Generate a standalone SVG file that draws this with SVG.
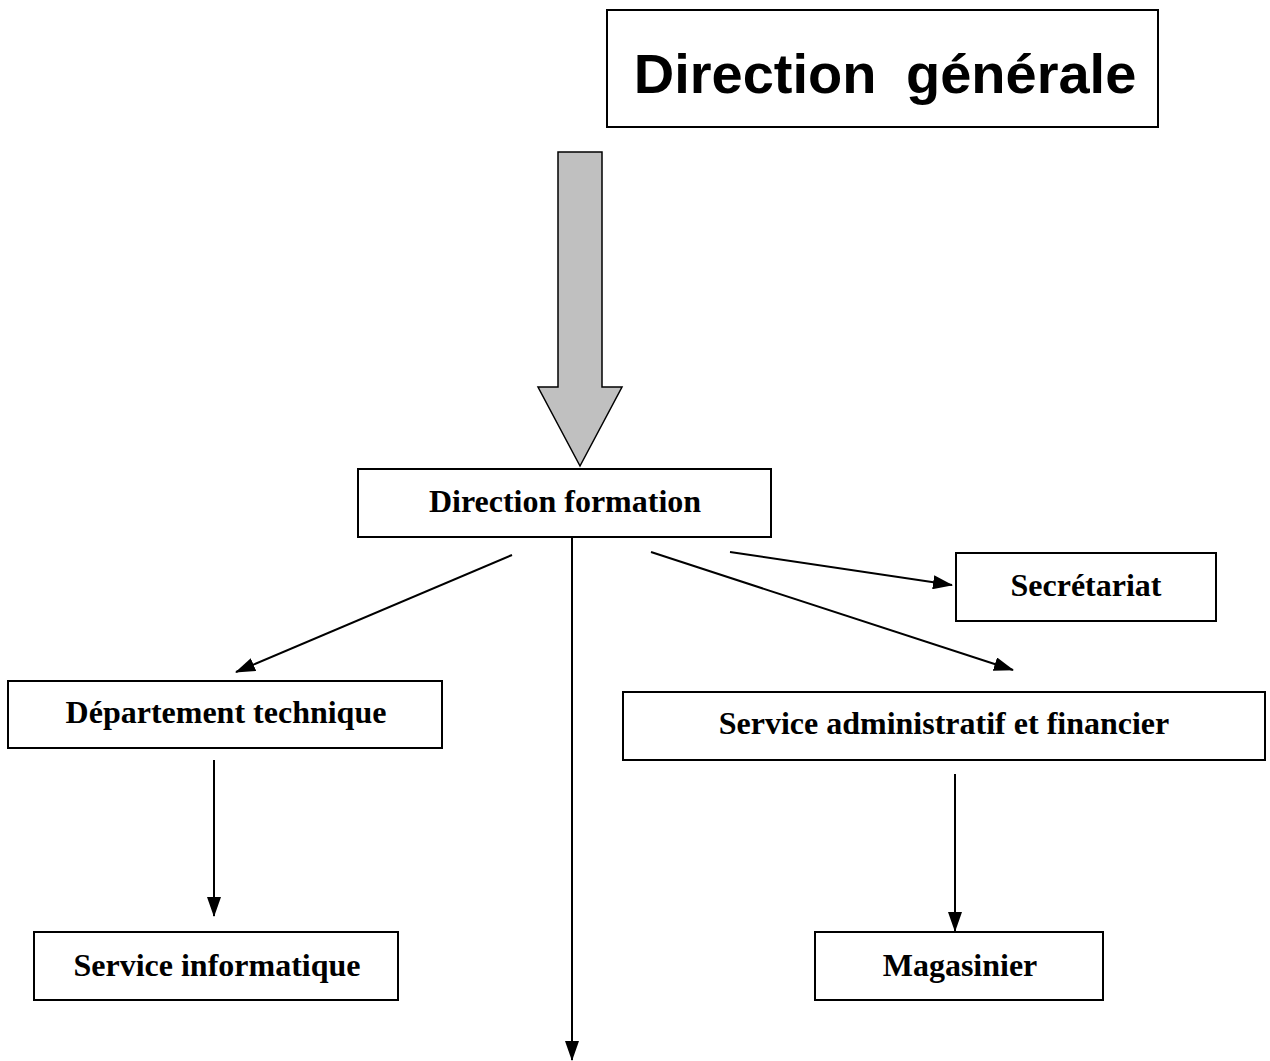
<svg xmlns="http://www.w3.org/2000/svg" width="1270" height="1061" viewBox="0 0 1270 1061">
  <style>
    .box { fill: #fff; stroke: #000; stroke-width: 2; }
    .lbl { font-family: "Liberation Serif", "Times New Roman", serif; font-weight: bold; font-size: 32px; text-anchor: middle; fill: #000; }
    .title { font-family: "Liberation Sans", Arial, sans-serif; font-weight: bold; font-size: 56px; text-anchor: middle; fill: #000; word-spacing: 14px; }
    .conn { stroke: #000; stroke-width: 2; fill: none; marker-end: url(#arr); }
  </style>
  <defs>
    <marker id="arr" viewBox="0 0 20 14" refX="19" refY="7" markerWidth="20" markerHeight="14" markerUnits="userSpaceOnUse" orient="auto">
      <path d="M0,0 L20,7 L0,14 Z" fill="#000"/>
    </marker>
  </defs>

  <g id="direction-generale">
    <rect class="box" x="607" y="10" width="551" height="117"/>
    <text class="title" x="885" y="93">Direction générale</text>
  </g>

  <g id="connectors">
    <!-- block arrow from the general direction -->
    <path d="M558,152 L602,152 L602,387 L622,387 L580,466 L538,387 L558,387 Z" fill="#c0c0c0" stroke="#000" stroke-width="1.5"/>
    <line class="conn" x1="572" y1="533" x2="572" y2="1060"/>
    <line class="conn" x1="512" y1="555" x2="236" y2="672"/>
    <line class="conn" x1="651" y1="552" x2="1013" y2="670"/>
    <line class="conn" x1="730" y1="552" x2="952" y2="585"/>
    <line class="conn" x1="214" y1="760" x2="214" y2="916"/>
    <line class="conn" x1="955" y1="774" x2="955" y2="931"/>
  </g>

  <g id="direction-formation">
    <rect class="box" x="358" y="469" width="413" height="68"/>
    <text class="lbl" x="565" y="512">Direction formation</text>
  </g>

  <g id="secretariat">
    <rect class="box" x="956" y="553" width="260" height="68"/>
    <text class="lbl" x="1086" y="596">Secrétariat</text>
  </g>

  <g id="departement-technique">
    <rect class="box" x="8" y="681" width="434" height="67"/>
    <text class="lbl" x="226" y="723">Département technique</text>
  </g>

  <g id="service-administratif">
    <rect class="box" x="623" y="692" width="642" height="68"/>
    <text class="lbl" x="944" y="734">Service administratif et financier</text>
  </g>

  <g id="service-informatique">
    <rect class="box" x="34" y="932" width="364" height="68"/>
    <text class="lbl" x="217" y="976">Service informatique</text>
  </g>

  <g id="magasinier">
    <rect class="box" x="815" y="932" width="288" height="68"/>
    <text class="lbl" x="960" y="976">Magasinier</text>
  </g>
</svg>
